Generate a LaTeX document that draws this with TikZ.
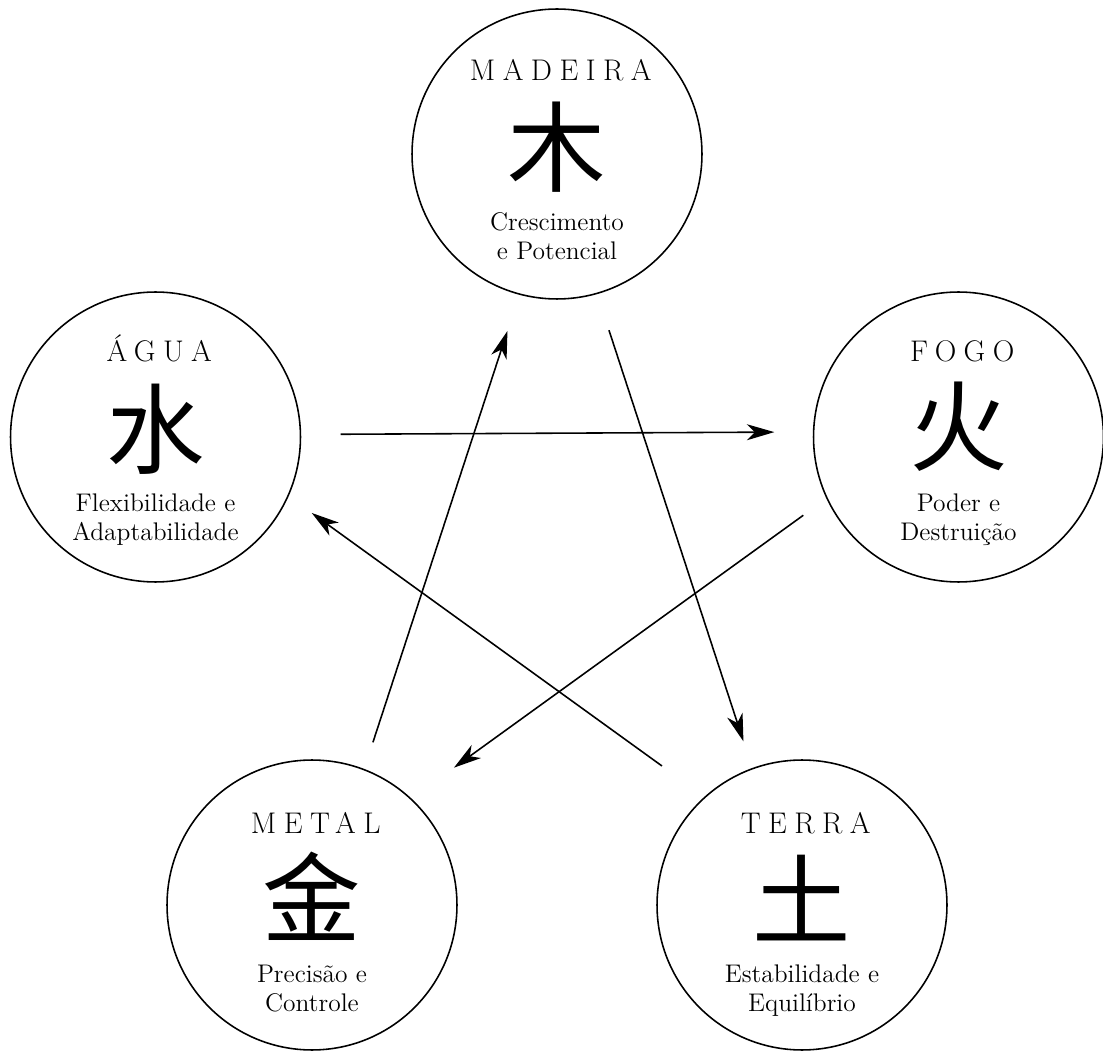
\documentclass[tikz,border=0pt]{standalone}
\usepackage{fontspec}
\newfontfamily\cjk{Noto Sans CJK SC}
\newfontfamily\espacada{Latin Modern Roman}[LetterSpace=25]
\usetikzlibrary{arrows.meta}

\tikzset{
  elemento/.style={draw, circle, line width=0.9pt, minimum size=5.8cm, inner sep=0pt},
  titulo/.style={anchor=base, inner sep=0pt,
    font=\espacada\fontsize{17}{17}\selectfont,
    execute at end node=\kern-0.25em},
  ideograma/.style={inner sep=0pt, font=\cjk\fontsize{56}{56}\selectfont},
  descricao/.style={anchor=base, inner sep=0pt, font=\fontsize{14.5}{16}\selectfont},
  seta/.style={line width=0.9pt, -{Stealth[length=5.5mm, width=3.2mm, inset=1.6mm]}}
}

\begin{document}
\begin{tikzpicture}[x=0.02cm, y=-0.02cm]
\useasboundingbox (0,0) rectangle (1103,1057);

% Madeira
\node[elemento] (madeira) at (557,154) {};
\node[titulo] (madeiraT) at (557,81) {MADEIRA};
\node[ideograma] (madeiraI) at (557,147) {木};
\node[descricao] (madeiraA) at (557,231) {Crescimento};
\node[descricao] (madeiraB) at (557,260) {e Potencial};

% Agua
\node[elemento] (agua) at (155.5,437) {};
\node[titulo] (aguaT) at (155.5,362) {ÁGUA};
\node[ideograma] (aguaI) at (155.5,429) {水};
\node[descricao] (aguaA) at (155.5,512) {Flexibilidade e};
\node[descricao] (aguaB) at (155.5,541) {Adaptabilidade};

% Fogo
\node[elemento] (fogo) at (958.5,437) {};
\node[titulo] (fogoT) at (958.5,362) {FOGO};
\node[ideograma] (fogoI) at (958.5,427) {火};
\node[descricao] (fogoA) at (958.5,512) {Poder e};
\node[descricao] (fogoB) at (958.5,541) {Destruição};

% Metal
\node[elemento] (metal) at (312,905) {};
\node[titulo] (metalT) at (312,833) {METAL};
\node[ideograma] (metalI) at (312,896) {金};
\node[descricao] (metalA) at (312,982) {Precisão e};
\node[descricao] (metalB) at (312,1011) {Controle};

% Terra
\node[elemento] (terra) at (802,905) {};
\node[titulo] (terraT) at (802,833) {TERRA};
\node[ideograma] (terraI) at (802,898) {土};
\node[descricao] (terraA) at (802,982) {Estabilidade e};
\node[descricao] (terraB) at (802,1011) {Equilíbrio};

% ciclo
\draw[seta, shorten <=0.79cm, shorten >=0.77cm] (agua.1.6) -- (fogo.178.4);
\draw[seta, shorten <=0.57cm, shorten >=1.05cm] (fogo.-155.9) -- (metal.47.7);
\draw[seta, shorten <=0.56cm, shorten >=0.76cm] (metal.69.2) -- (madeira.-105.3);
\draw[seta, shorten <=0.76cm, shorten >=0.56cm] (madeira.-74.7) -- (terra.110.8);
\draw[seta, shorten <=1.05cm, shorten >=0.57cm] (terra.132.3) -- (agua.-24.1);
\end{tikzpicture}
\end{document}
